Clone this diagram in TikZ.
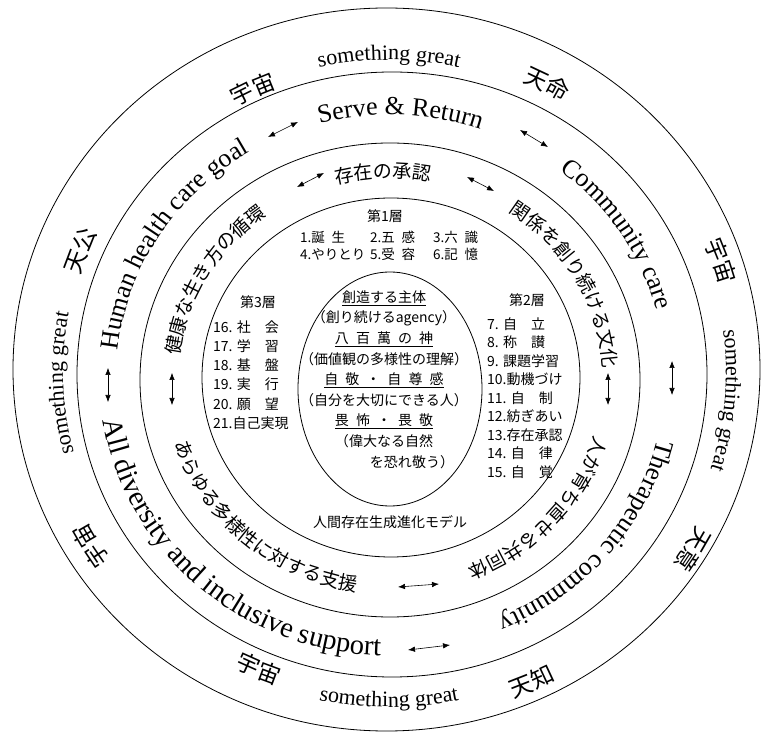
\documentclass[tikz,border=0pt]{standalone}
\usepackage{fontspec}
\setmainfont{Liberation Serif}
\newfontfamily\jp{Noto Sans CJK JP}
\usetikzlibrary{arrows.meta, decorations.text}
% font sizes of the ring texts
\newcommand{\kanjiL}{\jp\fontsize{23}{23}\selectfont}
\newcommand{\kanjiM}{\jp\fontsize{19}{19}\selectfont}
\newcommand{\engL}{\fontsize{26}{26}\selectfont}
\newcommand{\engM}{\fontsize{22}{22}\selectfont}
% text set along an elliptic arc: centre, x radius, y radius, from, to, text
\newcommand{\ringtext}[6]{%
  \path[decorate, decoration={text along path, text align=center, text={#6}}]
    (#1) ++(#4:#2 and #3) arc[start angle=#4, end angle=#5, x radius=#2, y radius=#3];}

\begin{document}
\begin{tikzpicture}[x=1pt, y=1pt, >={Latex[length=7pt, width=5.5pt]},
  ring/.style={line width=0.8pt},
  dblarrow/.style={<->, line width=0.6pt},
  listtext/.style={font=\jp\fontsize{14}{19}\selectfont, align=left, anchor=west, inner sep=0pt},
  headtext/.style={font=\jp\fontsize{14}{14}\selectfont, inner sep=0pt}]
\useasboundingbox (-390,-359) rectangle (372,376);
% —— rings ——
\draw[ring] (-3.5,6.5) ellipse [x radius=373.5pt, y radius=361.5pt];
\draw[ring] (2,1.5) ellipse [x radius=315pt, y radius=302.5pt];
\draw[ring] (0,-4) ellipse [x radius=250pt, y radius=237pt];
\draw[ring] (1,-1.5) ellipse [x radius=189pt, y radius=179.5pt];
\draw[ring] (0,-13) ellipse [x radius=92pt, y radius=117pt];

% —— outer band ——
\ringtext{-1,4}{315pt}{304pt}{135}{95}{|\kanjiL|宇宙}
\ringtext{-1,4}{323pt}{312pt}{120}{60}{|\engM|something great}
\ringtext{-1,4}{329pt}{318pt}{82}{42}{|\kanjiL|天命}
\ringtext{-1,4}{343pt}{331pt}{39}{-1}{|\kanjiL|宇宙}
\ringtext{-1,4}{337pt}{325pt}{25}{-35}{|\engM|something great}
\ringtext{-1,4}{347pt}{335pt}{-11}{-51}{|\kanjiL|天意}
\ringtext{-1,4}{343pt}{331pt}{227}{267}{|\kanjiL|宇宙}
\ringtext{-1,4}{347pt}{335pt}{240}{300}{|\engM|something great}
\ringtext{-1,4}{360pt}{347.5pt}{274}{314}{|\kanjiL|天知}
\ringtext{-1,4}{325pt}{314pt}{178}{138}{|\kanjiL|天公}
\ringtext{-1,4}{326pt}{315pt}{212}{152}{|\engM|something great}
\ringtext{-1,4}{340pt}{328pt}{231}{191}{|\kanjiL|宇宙}

% —— second band ——
\ringtext{1,-1}{274.5pt}{262pt}{128}{48}{|\engL|Serve {\&} Return}
\ringtext{1,-1}{274.5pt}{262pt}{73}{-7}{|\engL|Community care}
\ringtext{1,-1}{274.5pt}{262pt}{5}{-85}{|\engL|Therapeutic community}
\ringtext{1,-1}{274.5pt}{262pt}{198}{98}{|\engL|Human health care goal}
\ringtext{1,-1}{291.5pt}{279pt}{166}{290}{|\fontsize{28.5}{28.5}\selectfont|All diversity and inclusive support}
\coordinate (sa1) at (-122,239); \coordinate (sa2) at (-92,254);
\coordinate (sb1) at (130,246);  \coordinate (sb2) at (158,229);
\coordinate (sc1) at (-282,8);   \coordinate (sc2) at (-282,-26);
\coordinate (sd1) at (282,15);   \coordinate (sd2) at (282,-19);
\coordinate (se1) at (18,-274);  \coordinate (se2) at (60,-269);
\draw[dblarrow] (sa1) -- (sa2);
\draw[dblarrow] (sb1) -- (sb2);
\draw[dblarrow] (sc1) -- (sc2);
\draw[dblarrow] (sd1) -- (sd2);
\draw[dblarrow] (se1) -- (se2);

% —— third band ——
\ringtext{0.5,-3}{212.5pt}{201pt}{122}{62}{|\kanjiM|存在の承認}
\ringtext{0.5,-3}{212.5pt}{201pt}{200}{100}{|\kanjiM|健康な生き方の循環}
\ringtext{0.5,-3}{212.5pt}{201pt}{79}{-21}{|\kanjiM|関係を創り続ける文化}
\ringtext{0.5,-3}{212.5pt}{201pt}{8}{-92}{|\kanjiM|人が育ち直せる共同体}
\ringtext{0.5,-3}{226.5pt}{215pt}{160}{297}{|\kanjiM|あらゆる多様性に対する支援}
\coordinate (ta1) at (-93,189);  \coordinate (ta2) at (-66,203);
\coordinate (tb1) at (77,199);   \coordinate (tb2) at (104,185);
\coordinate (tc1) at (-218,3);   \coordinate (tc2) at (-218,-29);
\coordinate (td1) at (218,3);    \coordinate (td2) at (218,-29);
\coordinate (te1) at (8,-211);   \coordinate (te2) at (49,-208);
\draw[dblarrow] (ta1) -- (ta2);
\draw[dblarrow] (tb1) -- (tb2);
\draw[dblarrow] (tc1) -- (tc2);
\draw[dblarrow] (td1) -- (td2);
\draw[dblarrow] (te1) -- (te2);

% —— layers ——
\node[headtext] (layer1) at (-5,160) {第1層};
\node[listtext, font=\jp\fontsize{13.5}{17}\selectfont] (layer1a) at (-90,130.5) {1.誕\enspace 生\\4.やりとり};
\node[listtext, font=\jp\fontsize{13.5}{17}\selectfont] (layer1b) at (-20,130.5) {2.五\enspace 感\\5.受\enspace 容};
\node[listtext, font=\jp\fontsize{13.5}{17}\selectfont] (layer1c) at (43,130.5) {3.六\enspace 識\\6.記\enspace 憶};
\node[headtext] (layer3) at (-132,74) {第3層};
\node[listtext, font=\jp\fontsize{14}{19.2}\selectfont] (layer3list) at (-177,1)
  {16. 社　会\\17. 学　習\\18. 基　盤\\19. 実　行\\20. 願　望\\21.自己実現};
\node[headtext] (layer2) at (137,76) {第2層};
\node[listtext, font=\jp\fontsize{14}{18.5}\selectfont] (layer2list) at (97,-22)
  {7. 自　立\\8. 称　讃\\9. 課題学習\\10.動機づけ\\11. 自　制\\12.紡ぎあい\\13.存在承認\\14. 自　律\\15. 自　覚};

% —— core ——
\node[font=\jp\fontsize{14}{20.6}\selectfont, align=center, inner sep=0pt] (core) at (-6,-3.5)
  {\underline{創造する主体}\\（創り続けるagency）\\\underline{八\enspace 百\enspace 萬\enspace の\enspace 神}\\（価値観の多様性の理解）\\
   \underline{自\enspace 敬\enspace ・\enspace 自\enspace 尊\enspace 感}\\（自分を大切にできる人）\\\underline{畏\enspace 怖\enspace ・\enspace 畏\enspace 敬}\\
   （偉大なる自然\hspace*{5em}\\\hspace*{4em}を恐れ敬う）};
\node[headtext] (model) at (0,-146) {人間存在生成進化モデル};
\end{tikzpicture}
\end{document}
